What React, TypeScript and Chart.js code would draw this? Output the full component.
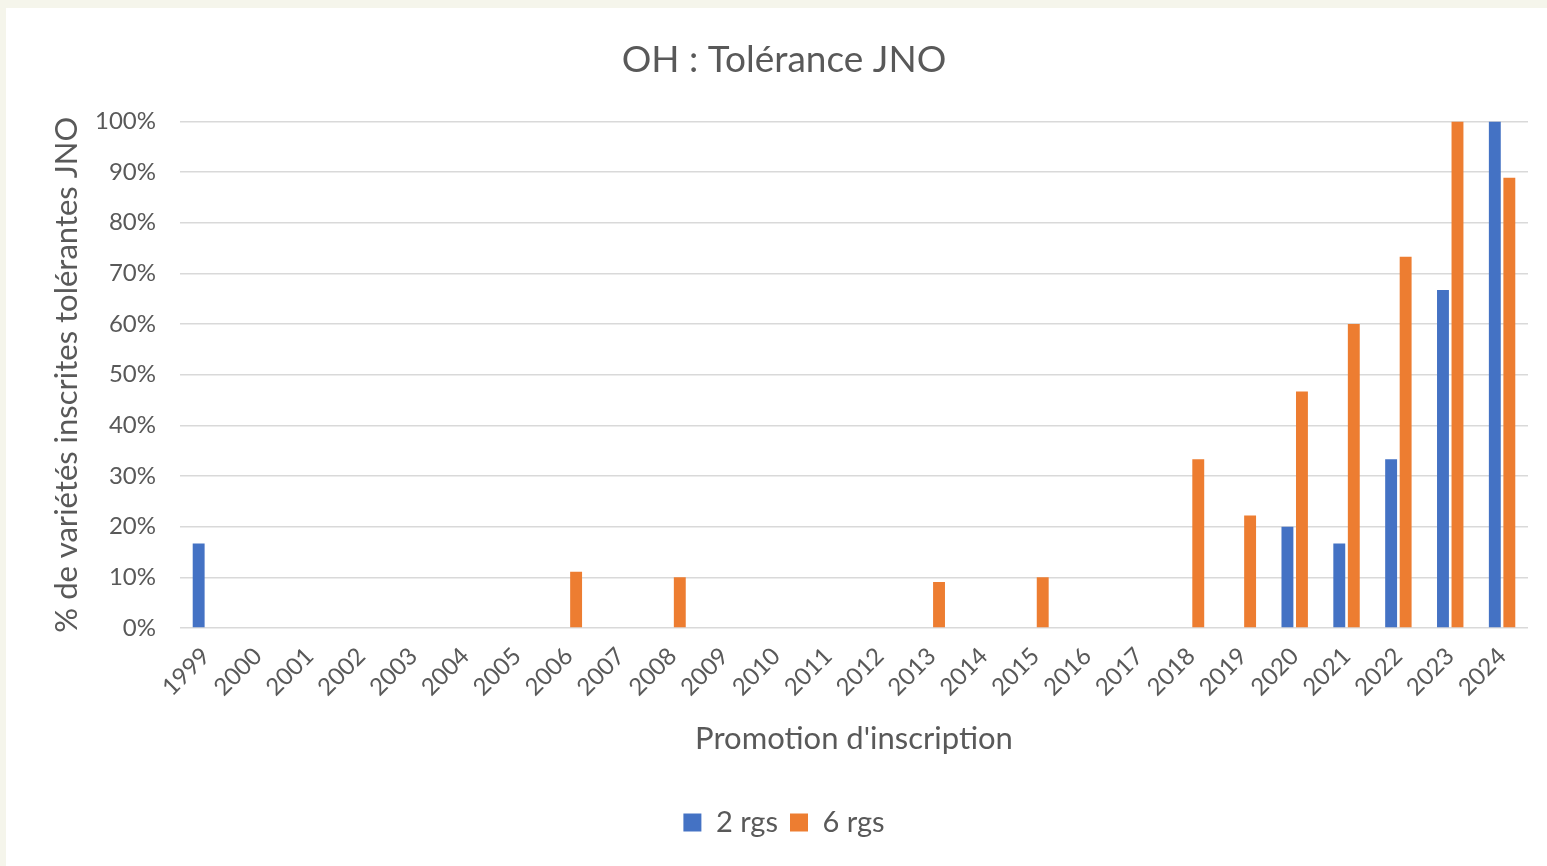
import React, { useEffect, useRef } from "react";
import { Chart, registerables } from "chart.js";

Chart.register(...registerables);

const categories = [
  "1999", "2000", "2001", "2002", "2003", "2004", "2005", "2006", "2007", "2008",
  "2009", "2010", "2011", "2012", "2013", "2014", "2015", "2016", "2017", "2018",
  "2019", "2020", "2021", "2022", "2023", "2024",
];

const series2rgs = [
  16.7, 0, 0, 0, 0, 0, 0, 0, 0, 0,
  0, 0, 0, 0, 0, 0, 0, 0, 0, 0,
  0, 20, 16.7, 33.3, 66.7, 100,
];

const series6rgs = [
  0, 0, 0, 0, 0, 0, 0, 11.1, 0, 10,
  0, 0, 0, 0, 9.1, 0, 10, 0, 0, 33.3,
  22.2, 46.7, 60, 73.3, 100, 88.9,
];

const FONT = "Lato, 'Open Sans', sans-serif";
const TEXT = "#595959";

export default function App() {
  const ref = useRef<HTMLCanvasElement | null>(null);

  useEffect(() => {
    if (!ref.current) return;
    const chart = new Chart(ref.current, {
      type: "bar",
      data: {
        labels: categories,
        datasets: [
          {
            label: "2 rgs",
            data: series2rgs,
            backgroundColor: "#4472c4",
            categoryPercentage: 0.56,
            barPercentage: 0.82,
          },
          {
            label: "6 rgs",
            data: series6rgs,
            backgroundColor: "#ed7d31",
            categoryPercentage: 0.56,
            barPercentage: 0.82,
          },
        ],
      },
      options: {
        animation: false,
        responsive: false,
        maintainAspectRatio: false,
        layout: { padding: { left: 15, right: 0, top: 0, bottom: 19 } },
        plugins: {
          title: {
            display: true,
            text: "OH : Tolérance JNO",
            color: TEXT,
            font: { family: FONT, size: 37, weight: "normal" },
            padding: { top: 30, bottom: 39 },
          },
          legend: {
            position: "bottom",
            labels: {
              color: TEXT,
              font: { family: FONT, size: 29 },
              boxWidth: 18,
              boxHeight: 18,
              padding: 12,
            },
          },
          tooltip: { enabled: false },
        },
        scales: {
          x: {
            grid: { display: false },
            border: { display: false },
            ticks: {
              color: TEXT,
              font: { family: FONT, size: 24 },
              minRotation: 45,
              maxRotation: 45,
              autoSkip: false,
              padding: 6,
            },
            title: {
              display: true,
              text: "Promotion d'inscription",
              color: TEXT,
              font: { family: FONT, size: 31 },
              padding: { top: 0, bottom: 38 },
            },
            afterFit: (s: any) => {
              s.height = 168;
            },
          },
          y: {
            min: 0,
            max: 100,
            grid: { color: "#d9d9d9", lineWidth: 1.5, drawTicks: false },
            border: { display: false },
            ticks: {
              stepSize: 10,
              color: TEXT,
              font: { family: FONT, size: 24 },
              padding: 24,
              callback: (v: any) => v + "%",
            },
            title: {
              display: true,
              text: "% de variétés inscrites tolérantes JNO",
              color: TEXT,
              font: { family: FONT, size: 31 },
              padding: { top: 27, bottom: 0 },
            },
            afterFit: (s: any) => {
              s.width = 159;
            },
          },
          yRight: {
            type: "linear",
            position: "right",
            display: true,
            grid: { display: false, drawTicks: false },
            border: { display: false },
            ticks: { display: false },
            afterFit: (s: any) => {
              s.width = 19;
            },
          },
        },
      },
    });
    return () => chart.destroy();
  }, []);

  return (
    <div
      style={{
        position: "absolute",
        left: 0,
        top: 0,
        width: 1547,
        height: 866,
        background: "#f5f5eb",
        overflow: "hidden",
      }}
    >
      <div
        style={{
          position: "absolute",
          left: 6,
          top: 8,
          width: 1541,
          height: 858,
          background: "#ffffff",
        }}
      >
        <canvas ref={ref} width={1541} height={858} style={{ display: "block" }} />
      </div>
    </div>
  );
}
